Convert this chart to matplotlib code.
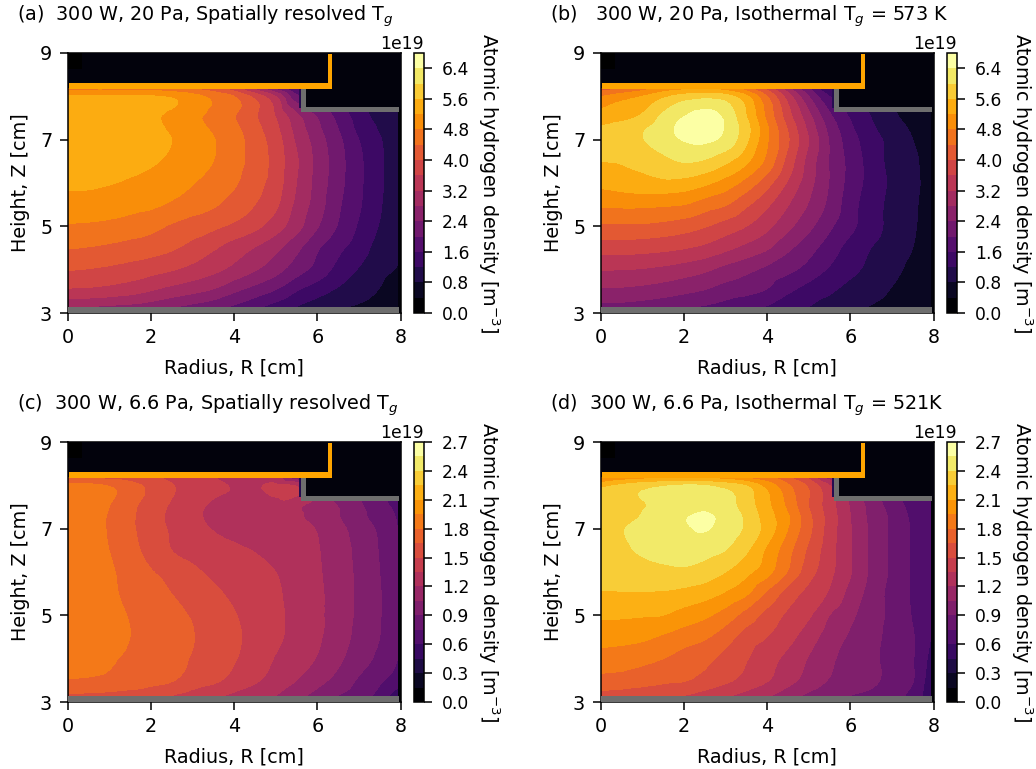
import numpy as np
import matplotlib
matplotlib.use("Agg")
import matplotlib.pyplot as plt
import matplotlib.tri as mtri
from matplotlib.patches import Rectangle

# radial and axial sample positions [cm], density in units of 1e19 m^-3
r_cm = [0, .5, 1, 1.5, 2, 2.5, 3, 3.5, 4, 4.5, 5, 5.5, 6, 6.5, 7, 7.5, 7.93]
z_cm = [3.15, 3.5, 4, 4.5, 5, 5.5, 6, 6.5, 7, 7.25, 7.5, 8, 8.2]

density_a = [
    [2.8, 2.8, 2.75, 2.7, 2.6, 2.45, 2.3, 2.15, 1.95, 1.7, 1.45, 1.2, 1.0, .85, .75, .6, .45],
    [3.5, 3.48, 3.42, 3.33, 3.18, 3.02, 2.88, 2.72, 2.44, 2.2, 1.95, 1.6, 1.35, 1.12, .98, .77, .6],
    [4.02, 3.98, 3.92, 3.84, 3.74, 3.63, 3.47, 3.3, 3.08, 2.83, 2.55, 2.18, 1.85, 1.47, 1.17, .9, .78],
    [4.42, 4.38, 4.32, 4.24, 4.17, 4.05, 3.87, 3.65, 3.4, 3.18, 2.9, 2.5, 2.05, 1.7, 1.4, 1.03, .82],
    [4.76, 4.74, 4.7, 4.62, 4.52, 4.35, 4.2, 4.08, 3.92, 3.7, 3.38, 2.95, 2.43, 1.97, 1.55, 1.17, .82],
    [5.03, 5.02, 4.98, 4.93, 4.87, 4.75, 4.6, 4.45, 4.25, 4.0, 3.67, 3.1, 2.6, 2.07, 1.65, 1.25, .82],
    [5.28, 5.27, 5.22, 5.15, 5.05, 4.93, 4.82, 4.62, 4.45, 4.15, 3.8, 3.2, 2.65, 2.15, 1.68, 1.3, .82],
    [5.42, 5.41, 5.38, 5.32, 5.25, 5.12, 4.97, 4.8, 4.54, 4.25, 3.83, 3.25, 2.67, 2.17, 1.68, 1.3, .82],
    [5.5, 5.5, 5.48, 5.42, 5.33, 5.2, 5.0, 4.82, 4.57, 4.2, 3.78, 3.13, 2.6, 2.1, 1.6, 1.24, .82],
    [5.5, 5.5, 5.48, 5.4, 5.3, 5.15, 4.95, 4.75, 4.5, 4.13, 3.7, 3.05, 2.5, 2.0, 1.5, 1.15, .82],
    [5.5, 5.5, 5.47, 5.38, 5.28, 5.1, 4.9, 4.67, 4.42, 4.05, 3.6, 2.95, 2.4, 1.9, 1.43, 1.05, .82],
    [5.25, 5.25, 5.25, 5.25, 5.23, 5.15, 4.95, 4.68, 4.4, 3.87, 3.2, 2.1, 1.9, 1.5, 1.1, .85, .7],
    [4.6, 4.6, 4.6, 4.55, 4.5, 4.45, 4.3, 4.1, 3.7, 3.0, 2.2, 1.5, 1.4, 1.2, .9, .7, .6],
]

density_b = [
    [2.3, 2.28, 2.22, 2.15, 2.05, 1.97, 1.85, 1.72, 1.58, 1.35, 1.2, 1.03, .9, .78, .65, .55, .4],
    [2.72, 2.7, 2.65, 2.57, 2.47, 2.36, 2.2, 2.1, 1.95, 1.65, 1.42, 1.25, 1.05, .95, .77, .62, .45],
    [3.22, 3.2, 3.17, 3.1, 3.0, 2.87, 2.67, 2.5, 2.3, 2.1, 1.85, 1.55, 1.3, 1.1, .9, .7, .5],
    [3.78, 3.78, 3.75, 3.7, 3.62, 3.5, 3.3, 3.08, 2.85, 2.48, 2.15, 1.8, 1.45, 1.2, 1.0, .8, .55],
    [4.33, 4.34, 4.33, 4.27, 4.18, 4.03, 3.82, 3.6, 3.3, 2.9, 2.5, 2.07, 1.7, 1.37, 1.08, .85, .6],
    [4.87, 4.88, 4.88, 4.85, 4.8, 4.6, 4.43, 4.07, 3.67, 3.22, 2.77, 2.3, 1.77, 1.37, 1.1, .87, .62],
    [5.3, 5.38, 5.45, 5.5, 5.45, 5.28, 5.03, 4.65, 4.15, 3.55, 2.95, 2.38, 1.85, 1.45, 1.13, .9, .65],
    [5.6, 5.63, 5.72, 5.88, 6.02, 5.95, 5.68, 5.28, 4.68, 3.85, 3.05, 2.38, 1.87, 1.43, 1.08, .87, .65],
    [5.72, 5.82, 5.98, 6.2, 6.42, 6.48, 6.28, 5.68, 4.85, 4.05, 3.2, 2.37, 1.78, 1.37, 1.08, .8, .62],
    [5.65, 5.78, 5.95, 6.22, 6.52, 6.68, 6.36, 5.75, 4.87, 3.97, 3.1, 2.28, 1.68, 1.28, .98, .75, .6],
    [5.38, 5.5, 5.68, 6.1, 6.42, 6.58, 6.33, 5.63, 4.72, 3.8, 2.95, 2.12, 1.58, 1.2, .9, .65, .55],
    [4.78, 5.0, 5.2, 5.5, 5.75, 5.85, 5.75, 5.28, 4.4, 3.4, 2.4, 1.6, 1.3, 1.0, .7, .5, .4],
    [4.1, 4.3, 4.55, 4.85, 5.0, 5.05, 4.9, 4.5, 3.8, 2.9, 2.0, 1.2, 1.0, .8, .6, .4, .3],
]

density_c = [
    [1.63, 1.62, 1.61, 1.59, 1.57, 1.5, 1.44, 1.38, 1.32, 1.27, 1.2, 1.1, 1.0, .9, .82, .7, .5],
    [1.79, 1.78, 1.76, 1.73, 1.69, 1.66, 1.58, 1.53, 1.45, 1.37, 1.29, 1.2, 1.1, 1.0, .88, .77, .68],
    [1.87, 1.86, 1.82, 1.77, 1.73, 1.69, 1.64, 1.57, 1.51, 1.44, 1.34, 1.27, 1.19, 1.08, .97, .86, .75],
    [1.9, 1.89, 1.87, 1.8, 1.75, 1.7, 1.655, 1.6, 1.53, 1.45, 1.38, 1.3, 1.22, 1.13, 1.0, .9, .76],
    [1.9, 1.88, 1.85, 1.79, 1.73, 1.68, 1.64, 1.58, 1.51, 1.44, 1.38, 1.31, 1.23, 1.13, 1.02, .91, .76],
    [1.89, 1.87, 1.83, 1.76, 1.69, 1.65, 1.58, 1.53, 1.47, 1.42, 1.37, 1.3, 1.23, 1.13, 1.02, .91, .76],
    [1.89, 1.86, 1.82, 1.74, 1.66, 1.61, 1.53, 1.47, 1.43, 1.39, 1.35, 1.29, 1.22, 1.12, 1.02, .9, .76],
    [1.88, 1.84, 1.8, 1.7, 1.6, 1.5, 1.45, 1.4, 1.37, 1.345, 1.31, 1.27, 1.21, 1.12, 1.01, .89, .76],
    [1.87, 1.83, 1.79, 1.68, 1.57, 1.48, 1.4, 1.345, 1.32, 1.3, 1.27, 1.25, 1.19, 1.09, .99, .87, .75],
    [1.87, 1.83, 1.79, 1.68, 1.56, 1.47, 1.38, 1.33, 1.31, 1.3, 1.28, 1.23, 1.14, 1.06, .95, .83, .74],
    [1.86, 1.83, 1.8, 1.69, 1.57, 1.48, 1.39, 1.33, 1.32, 1.31, 1.29, 1.22, 1.13, 1.05, .93, .8, .72],
    [1.84, 1.83, 1.79, 1.71, 1.61, 1.51, 1.44, 1.38, 1.34, 1.33, 1.37, 1.33, 1.0, .9, .8, .7, .6],
    [1.62, 1.6, 1.58, 1.55, 1.5, 1.45, 1.4, 1.35, 1.28, 1.25, 1.25, .9, .8, .7, .6, .5, .4],
]

density_d = [
    [1.6, 1.58, 1.56, 1.53, 1.5, 1.44, 1.37, 1.3, 1.22, 1.12, 1.02, .95, .9, .87, .8, .7, .5],
    [1.75, 1.74, 1.71, 1.68, 1.66, 1.6, 1.53, 1.45, 1.36, 1.25, 1.14, 1.04, .98, .93, .85, .76, .52],
    [1.89, 1.87, 1.84, 1.8, 1.74, 1.69, 1.6, 1.51, 1.41, 1.31, 1.19, 1.08, .99, .93, .85, .76, .56],
    [2.01, 2.0, 1.98, 1.93, 1.87, 1.82, 1.72, 1.58, 1.5, 1.4, 1.27, 1.13, 1.03, .95, .85, .76, .6],
    [2.12, 2.12, 2.11, 2.1, 2.04, 1.98, 1.88, 1.74, 1.6, 1.47, 1.37, 1.2, 1.08, .97, .86, .74, .62],
    [2.24, 2.24, 2.24, 2.23, 2.2, 2.16, 2.08, 1.97, 1.77, 1.58, 1.45, 1.33, 1.15, .99, .85, .73, .63],
    [2.29, 2.31, 2.33, 2.36, 2.37, 2.33, 2.25, 2.14, 2.0, 1.79, 1.56, 1.39, 1.21, 1.02, .87, .73, .63],
    [2.33, 2.37, 2.42, 2.45, 2.47, 2.45, 2.4, 2.27, 2.07, 1.85, 1.62, 1.41, 1.21, 1.02, .87, .73, .63],
    [2.33, 2.39, 2.44, 2.48, 2.53, 2.56, 2.49, 2.37, 2.19, 1.95, 1.69, 1.43, 1.21, 1.02, .87, .73, .63],
    [2.32, 2.36, 2.41, 2.47, 2.54, 2.58, 2.5, 2.37, 2.17, 1.97, 1.69, 1.44, 1.2, 1.01, .87, .72, .63],
    [2.3, 2.34, 2.39, 2.44, 2.48, 2.52, 2.47, 2.33, 2.14, 1.92, 1.65, 1.42, 1.19, 1.0, .84, .7, .62],
    [2.2, 2.27, 2.33, 2.38, 2.41, 2.4, 2.33, 2.24, 2.04, 1.82, 1.62, 1.35, 1.05, .9, .75, .6, .5],
    [1.85, 1.95, 2.0, 2.02, 2.03, 2.02, 1.98, 1.9, 1.8, 1.65, 1.45, 1.1, .9, .8, .65, .5, .4],
]

titles = ["(a)  300 W, 20 Pa, Spatially resolved T$_g$",
          "(b)   300 W, 20 Pa, Isothermal T$_g$ = 573 K",
          "(c)  300 W, 6.6 Pa, Spatially resolved T$_g$",
          "(d)  300 W, 6.6 Pa, Isothermal T$_g$ = 521K"]
level_step = [0.4, 0.4, 0.15, 0.15]
level_top = [6.8, 6.8, 2.7, 2.7]
cbar_ticks = [np.arange(0, 6.5, 0.8), np.arange(0, 6.5, 0.8),
              np.arange(0, 2.8, 0.3), np.arange(0, 2.8, 0.3)]

W, H = 1036, 769
ax_left = [67.5, 600.5, 67.5, 600.5]
ax_top = [53, 53, 442, 442]
title_x = [17, 550, 17, 550]
title_y = [16, 16, 405, 405]
ax_w, ax_h = 333, 260
grey = "#6e6e6e"
orange = "#ffa500"
dark = plt.cm.inferno(0.02)
sliver = plt.cm.inferno(0.14)

plt.rcParams["font.family"] = "DejaVu Sans"
fig = plt.figure(figsize=(W / 100, H / 100), dpi=100)

rr, zz = np.meshgrid(r_cm, z_cm)
tri = mtri.Triangulation(rr.ravel(), zz.ravel())
refiner = mtri.UniformTriRefiner(tri)

for i, dens in enumerate([density_a, density_b, density_c, density_d]):
    ax = fig.add_axes([ax_left[i] / W, 1 - (ax_top[i] + ax_h) / H, ax_w / W, ax_h / H])
    levels = np.linspace(0, level_top[i], int(round(level_top[i] / level_step[i])) + 1) * 1e19
    # let matplotlib's refiner round off the contours between the read values
    interp = mtri.CubicTriInterpolator(tri, np.array(dens).ravel(), kind="geom")
    fine_tri, fine_dens = refiner.refine_field(np.array(dens).ravel(), triinterpolator=interp, subdiv=3)
    # first band gets the bottom colour of the map, last band the top colour
    cs = ax.tricontourf(fine_tri, np.clip(fine_dens, 0, level_top[i]) * 1e19, levels=levels, cmap="inferno",
                        vmin=(levels[0] + levels[1]) / 2, vmax=(levels[-2] + levels[-1]) / 2)
    ax.set_facecolor(dark)
    ax.set_xlim(0, 8)
    ax.set_ylim(3, 9)
    ax.set_xticks([0, 2, 4, 6, 8])
    ax.set_yticks([3, 5, 7, 9])
    ax.tick_params(labelsize=13.8, length=6, width=1.1, pad=5)
    ax.set_xlabel("Radius, R [cm]", fontsize=13.8, labelpad=8)
    ax.set_ylabel("Height, Z [cm]", fontsize=13.8, labelpad=7)
    for s in ax.spines.values():
        s.set_linewidth(1.1)

    # plasma chamber outline: dark region outside, then the electrode and walls
    ax.add_patch(Rectangle((0, 8.2), 8, 0.8, color=dark, lw=0, zorder=3))
    ax.add_patch(Rectangle((5.7, 7.7), 2.3, 0.6, color=dark, lw=0, zorder=3))
    ax.add_patch(Rectangle((0, 8.62), 0.35, 0.38, color="black", lw=0, zorder=3))
    ax.add_patch(Rectangle((5.55, 7.72), 0.1, 0.48, color=sliver, lw=0, zorder=3))
    ax.add_patch(Rectangle((5.62, 7.65), 0.11, 0.55, color=grey, lw=0, zorder=4))
    ax.add_patch(Rectangle((5.62, 7.65), 2.35, 0.1, color=grey, lw=0, zorder=4))
    ax.add_patch(Rectangle((0.02, 3.01), 7.95, 0.14, color=grey, lw=0, zorder=4))
    ax.add_patch(Rectangle((0.03, 8.18), 6.32, 0.12, color=orange, lw=0, zorder=5))
    ax.add_patch(Rectangle((6.25, 8.18), 0.1, 0.79, color=orange, lw=0, zorder=5))

    cax = fig.add_axes([(ax_left[i] + 346) / W, 1 - (ax_top[i] + ax_h) / H, 10.5 / W, ax_h / H])
    cbar = fig.colorbar(cs, cax=cax, ticks=cbar_ticks[i] * 1e19)
    cbar.ax.tick_params(labelsize=12.3, length=6, width=1.1, pad=7)
    cbar.ax.yaxis.get_offset_text().set_fontsize(12.3)
    cbar.outline.set_linewidth(1.1)
    cbar.set_label("Atomic hydrogen density [m$^{-3}$]", rotation=270, fontsize=13.8, labelpad=23)

    fig.text(title_x[i] / W, 1 - title_y[i] / H, titles[i], fontsize=13.8, ha="left", va="center")

fig.savefig("out.png", dpi=100)
